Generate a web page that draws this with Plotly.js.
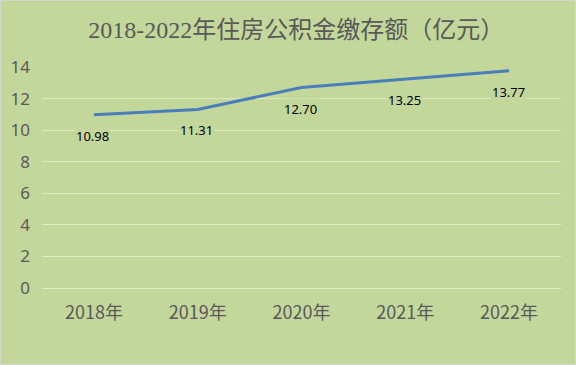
<!DOCTYPE html>
<html>
<head>
<meta charset="utf-8">
<script src="https://cdn.plot.ly/plotly-3.0.1.min.js"></script>
<style>
html,body{margin:0;padding:0;background:#C4D79B;}
#chart{width:574px;height:363px;border:1px solid #D4D8CC;}
</style>
</head>
<body>
<div id="chart"></div>
<script>
var years = ["2018年", "2019年", "2020年", "2021年", "2022年"];
var deposits = [10.98, 11.31, 12.70, 13.25, 13.77];
var valueLabels = ["10.98", "11.31", "12.70", "13.25", "13.77"];
var yTicks = [0, 2, 4, 6, 8, 10, 12, 14];

var bg = "#C4D79B";
var trace = {
  x: years,
  y: deposits,
  type: "scatter",
  mode: "lines",
  line: {color: "#4A7EBB", width: 3},
  hoverinfo: "skip"
};

var annotations = years.map(function (c, i) {
  return {
    x: c, y: deposits[i], xref: "x", yref: "y",
    text: valueLabels[i], showarrow: false,
    yanchor: "middle", xanchor: "center",
    yshift: -21, xshift: -1,
    bgcolor: bg, borderpad: 1,
    font: {family: "Noto Sans, Liberation Sans, sans-serif", size: 13, color: "#000000"}
  };
});

var layout = {
  width: 574, height: 363,
  paper_bgcolor: bg, plot_bgcolor: bg,
  margin: {l: 41, r: 14, t: 66, b: 76},
  showlegend: false,
  title: {
    text: "2018-2022年住房公积金缴存额（亿元）",
    font: {family: "Liberation Serif, Noto Sans CJK SC, serif", size: 24, color: "#595959"},
    x: 0.49, xanchor: "center", y: 0.922, yanchor: "middle", xref: "paper", yref: "container"
  },
  xaxis: {
    type: "category",
    showgrid: false, zeroline: false, showline: false,
    ticks: "",
    tickfont: {family: "Noto Sans CJK SC, Noto Sans, sans-serif", size: 18, color: "#595959"},
    ticklabelstandoff: 12,
    range: [-0.5, 4.5]
  },
  yaxis: {
    range: [0, 14],
    tickvals: yTicks,
    ticktext: yTicks.map(String),
    showgrid: true, gridcolor: "#DDE8C6", gridwidth: 1,
    zeroline: true, zerolinecolor: "#DDE8C6", zerolinewidth: 1,
    showline: false, ticks: "",
    tickfont: {family: "Noto Sans, sans-serif", size: 17, color: "#595959"},
    ticklabelstandoff: 11
  },
  annotations: annotations
};

Plotly.newPlot("chart", [trace], layout, {displayModeBar: false, staticPlot: true});
</script>
</body>
</html>
